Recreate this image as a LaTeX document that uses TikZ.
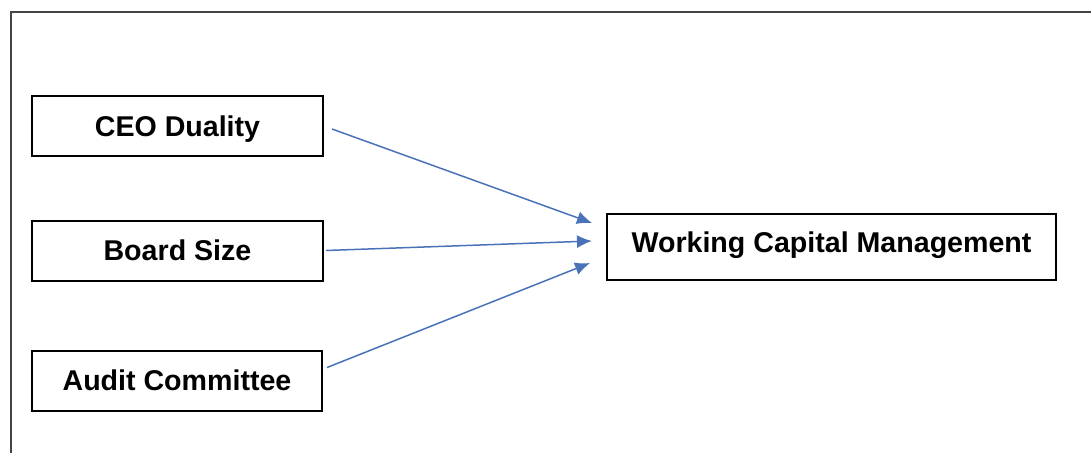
\documentclass[tikz,border=0pt]{standalone}
\usepackage{fontspec}
\setmainfont{Liberation Sans}
\usetikzlibrary{arrows.meta,calc}
\definecolor{arrowblue}{HTML}{4A72B8}
\definecolor{framegray}{HTML}{444444}
\begin{document}
\begin{tikzpicture}[x=1pt,y=-1pt,
  varbox/.style={draw=black,line width=2pt,minimum height=60pt,inner sep=0pt,
    font=\fontsize{28.6}{32}\selectfont\bfseries,text height=20.5pt,text depth=0pt},
  link/.style={draw=arrowblue,line width=1.5pt,-{Latex[length=15pt,width=13pt]}}]
\useasboundingbox (0,0) rectangle (1091,453);
\draw[framegray,line width=2.4pt] (11,453) -- (11,12) -- (1091,12);
\node[varbox,minimum width=291pt] (ceo) at (177.5,126) {CEO Duality};
\node[varbox,minimum width=291pt] (board) at (177.5,250.5) {Board Size};
\node[varbox,minimum width=290pt] (audit) at (177,380.5) {Audit Committee};
\node[varbox,minimum width=449pt,minimum height=66pt,text depth=10pt] (wcm) at (831.5,247) {Working Capital Management};
\draw[link] ($(ceo.east)+(8,3)$) -- ($(wcm.west)+(-14,-24)$);
\draw[link] ($(board.east)+(2,0)$) -- ($(wcm.west)+(-14,-6)$);
\draw[link] ($(audit.east)+(4,-13)$) -- ($(wcm.west)+(-16,16)$);
\end{tikzpicture}
\end{document}
